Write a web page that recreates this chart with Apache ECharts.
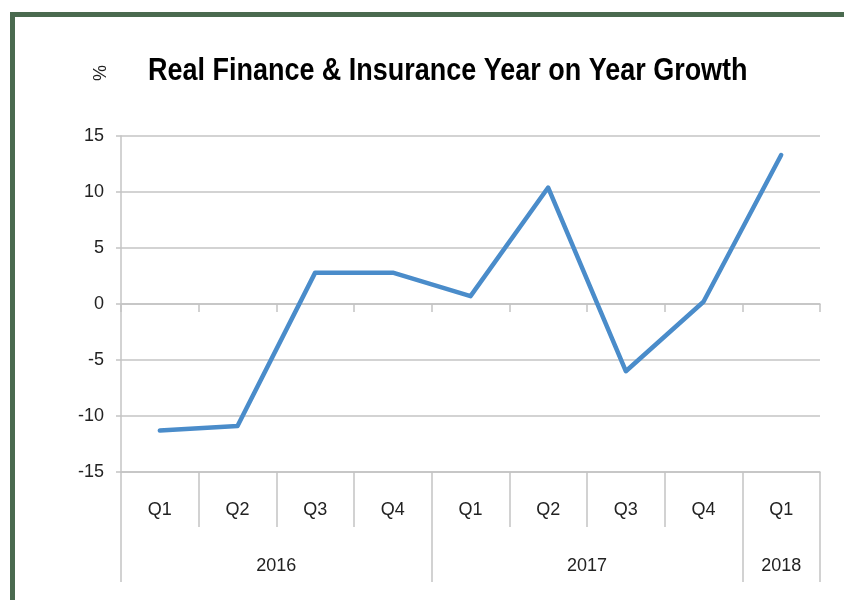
<!DOCTYPE html>
<html>
<head>
<meta charset="utf-8">
<script src="https://cdn.jsdelivr.net/npm/echarts@6/dist/echarts.min.js"></script>
<style>
  html, body { margin: 0; padding: 0; background: #fff; }
  #chart { width: 844px; height: 600px; }
</style>
</head>
<body>
<div id="chart"></div>
<script>
// Quarterly year-on-year growth of real finance & insurance output (%)
const quarters = ['Q1', 'Q2', 'Q3', 'Q4', 'Q1', 'Q2', 'Q3', 'Q4', 'Q1'];
const growth = [-11.3, -10.9, 2.8, 2.8, 0.7, 10.4, -6.0, 0.2, 13.3];
const years = ['2016', '2017', '2018'];
const quartersPerYear = [4, 4, 1];
const yTicks = { min: -15, max: 15, step: 5 };
const titleText = 'Real Finance & Insurance Year on Year Growth';

// Year group boundaries and label centres along the category span
const yearBounds = [0];
quartersPerYear.forEach(n => yearBounds.push(yearBounds[yearBounds.length - 1] + n));
const yearCentres = years.map((_, i) => (yearBounds[i] + yearBounds[i + 1]) / 2);

const FONT = "'Liberation Sans', Arial, sans-serif";
const GRID_GREY = '#c4c4c4';

const chart = echarts.init(document.getElementById('chart'), null, { renderer: 'canvas' });
chart.setOption({
  animation: false,
  backgroundColor: '#ffffff',
  graphic: [
    {
      type: 'rect',
      silent: true,
      shape: { x: 12.5, y: 14.5, width: 1000, height: 800 },
      style: { fill: 'none', stroke: '#4a6a4f', lineWidth: 5 }
    },
    {
      // condensed bold heading
      type: 'text',
      x: 148,
      y: 56,
      scaleX: 0.87,
      style: { text: titleText, font: 'bold 31px ' + FONT, fill: '#000' }
    },
    {
      type: 'text',
      x: 92,
      y: 65,
      rotation: Math.PI / 2,
      originX: 0,
      originY: 0,
      style: { text: '%', font: '18px ' + FONT, fill: '#222', align: 'right' }
    }
  ],
  grid: { left: 121, right: 24, top: 136, bottom: 128 },
  xAxis: [
    {
      // axis line crossing at zero with short boundary ticks
      type: 'category',
      data: quarters,
      boundaryGap: true,
      axisLine: { onZero: true, lineStyle: { color: GRID_GREY, width: 1.5 } },
      axisTick: { show: true, interval: 0, length: 8, lineStyle: { color: GRID_GREY, width: 1.5 } },
      axisLabel: { show: false },
      splitLine: { show: false }
    },
    {
      // quarter labels below the plot
      type: 'category',
      data: quarters,
      position: 'bottom',
      boundaryGap: true,
      axisLine: { onZero: false, lineStyle: { color: GRID_GREY, width: 1.5 } },
      axisTick: { show: true, interval: 0, length: 55, lineStyle: { color: GRID_GREY, width: 1.5 } },
      axisLabel: { interval: 0, margin: 29, fontFamily: FONT, fontSize: 18, color: '#222' },
      splitLine: { show: false }
    },
    {
      // year group labels
      type: 'value',
      position: 'bottom',
      min: 0,
      max: quarters.length,
      axisLine: { show: false, onZero: false },
      axisTick: {
        show: true,
        customValues: yearBounds,
        length: 110,
        lineStyle: { color: GRID_GREY, width: 1.5 }
      },
      axisLabel: {
        customValues: yearCentres,
        margin: 85,
        fontFamily: FONT,
        fontSize: 18,
        color: '#222',
        formatter: v => years[yearCentres.indexOf(v)] || ''
      },
      splitLine: { show: false }
    }
  ],
  yAxis: {
    type: 'value',
    min: yTicks.min,
    max: yTicks.max,
    interval: yTicks.step,
    axisLine: { show: true, lineStyle: { color: GRID_GREY, width: 1.5 } },
    axisTick: { show: true, length: 5, lineStyle: { color: GRID_GREY, width: 1.5 } },
    axisLabel: { margin: 17, fontFamily: FONT, fontSize: 18, color: '#222' },
    splitLine: { show: true, lineStyle: { color: GRID_GREY, width: 1.5 } }
  },
  series: [
    {
      type: 'line',
      xAxisIndex: 0,
      data: growth,
      symbol: 'none',
      lineStyle: { color: '#4a8cca', width: 4.5, cap: 'round', join: 'round' }
    }
  ]
});
</script>
</body>
</html>
